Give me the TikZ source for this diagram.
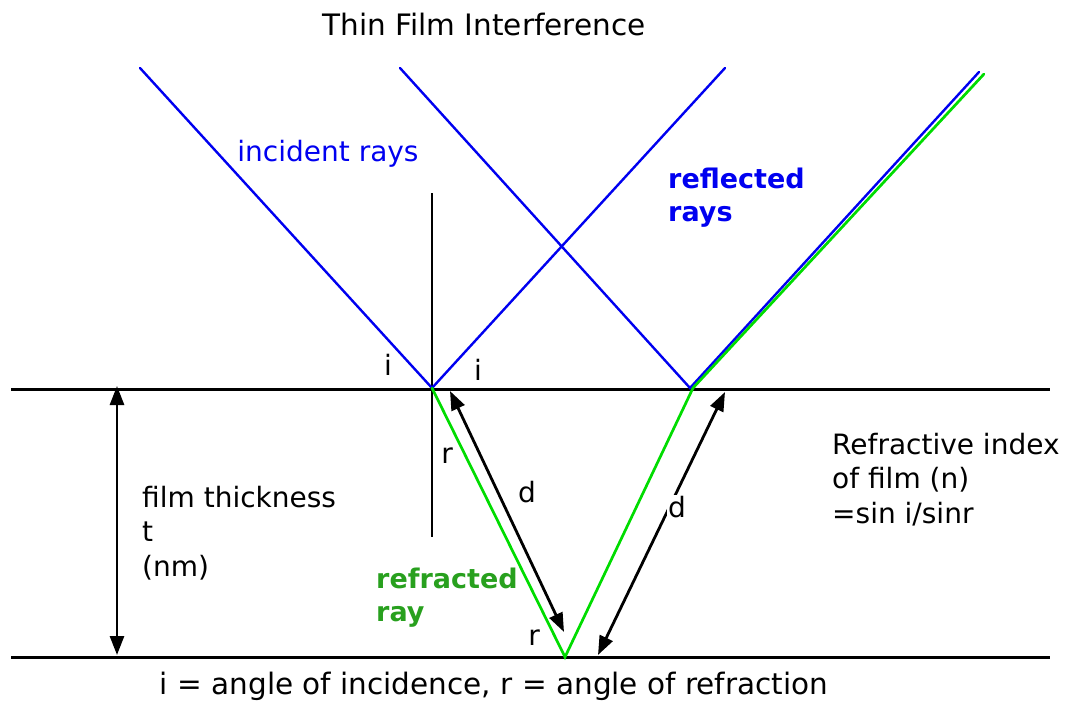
\documentclass[tikz,border=0pt]{standalone}
\usepackage{fontspec}
\setmainfont{DejaVu Sans}
\usetikzlibrary{arrows.meta}
\begin{document}
\begin{tikzpicture}
% Thin film interference, drawn on a pixel grid (y grows downwards)
\def\pxsz{1pt}
\providecommand{\filmLineWidth}{3pt}
\providecommand{\filmRayWidth}{2.4pt}
\definecolor{rayBlue}{RGB}{0,0,240}
\definecolor{rayGreen}{RGB}{0,220,0}
\definecolor{labelGreen}{RGB}{40,160,30}
\tikzset{
  filmline/.style={draw=black, line width=\filmLineWidth},
  blueray/.style={draw=rayBlue, line width=\filmRayWidth, line cap=round},
  greenray/.style={draw=rayGreen, line width=2.7pt, line cap=round},
  dimarrow/.style={draw=black, line width=2.8pt, {Triangle[length=19pt,width=14pt]}-{Triangle[length=19pt,width=14pt]}},
  plaintext/.style={inner sep=0pt, font=\fontsize{28}{34.5}\selectfont, align=left},
  bigtext/.style={inner sep=0pt, font=\fontsize{29.5}{34.5}\selectfont},
  boldtext/.style={inner sep=0pt, font=\fontsize{27}{33}\selectfont\bfseries, align=left}
}
\begin{scope}[x=\pxsz, y=-\pxsz]
  \useasboundingbox (0,0) rectangle (1073,709);
  % Surfaces of the film
  \coordinate (topL) at (11,389);
  \coordinate (topR) at (1050,389);
  \coordinate (botL) at (11,657);
  \coordinate (botR) at (1050,657);
  \draw[filmline] (topL) -- (topR);
  \draw[filmline] (botL) -- (botR);
  % Points where the rays meet the surfaces
  \coordinate (hitA) at (432,388);
  \coordinate (hitB) at (690,388);
  \coordinate (hitG) at (693,388);
  \coordinate (hitC) at (565,657);
  % Normal
  \coordinate (normTop) at (432,193);
  \coordinate (normBot) at (432,537);
  \draw[filmline, line width=2.8pt] (normTop) -- (normBot);
  % Incident and reflected rays
  \coordinate (inA) at (140,68);
  \coordinate (inB) at (400,68);
  \coordinate (outA) at (725,68);
  \coordinate (outB) at (979,72);
  \coordinate (outG) at (984,74);
  \draw[blueray] (inA) -- (hitA) -- (outA);
  \draw[blueray] (inB) -- (hitB) -- (outB);
  % Refracted ray
  \draw[greenray, line join=miter] (hitA) -- (hitC) -- (hitG) -- (outG);
  % Path lengths and film thickness
  \coordinate (dAtop) at (450,391);
  \coordinate (dAbot) at (564,632);
  \coordinate (dBtop) at (725,392);
  \coordinate (dBbot) at (598,655);
  \coordinate (tTop) at (117,386);
  \coordinate (tBot) at (117,655);
  \draw[dimarrow] (dAtop) -- (dAbot);
  \draw[dimarrow] (dBtop) -- (dBbot);
  \draw[dimarrow] (tTop) -- (tBot);
  % Labels
  \node[bigtext, anchor=base] (title) at (484,36) {Thin Film Interference};
  \node[plaintext, anchor=base, text=rayBlue] (incLbl) at (328,161) {incident rays};
  \node[boldtext, anchor=north west, text=rayBlue] (reflLbl) at (668,168) {reflected\\rays};
  \node[boldtext, anchor=north west, text=labelGreen] (refrLbl) at (376,568) {refracted\\ray};
  \node[plaintext, anchor=base] (iLeft) at (388,375) {i};
  \node[plaintext, anchor=base] (iRight) at (478,380) {i};
  \node[plaintext, anchor=base] (rTop) at (447,463) {r};
  \node[plaintext, anchor=base] (rBot) at (534,645) {r};
  \node[plaintext, anchor=base] (dLeft) at (527,502) {d};
  \node[plaintext, anchor=base, fill=white, inner sep=1pt] (dRight) at (677,517) {d};
  \node[plaintext, anchor=north west] (thickLbl) at (142,486) {film thickness\\t\\(nm)};
  \node[plaintext, anchor=north west] (indexLbl) at (832,433) {Refractive index\\of film (n)\\=sin i/sinr};
  \node[bigtext, anchor=base] (caption) at (494,694) {i = angle of incidence, r = angle of refraction};
\end{scope}
\end{tikzpicture}
\end{document}
